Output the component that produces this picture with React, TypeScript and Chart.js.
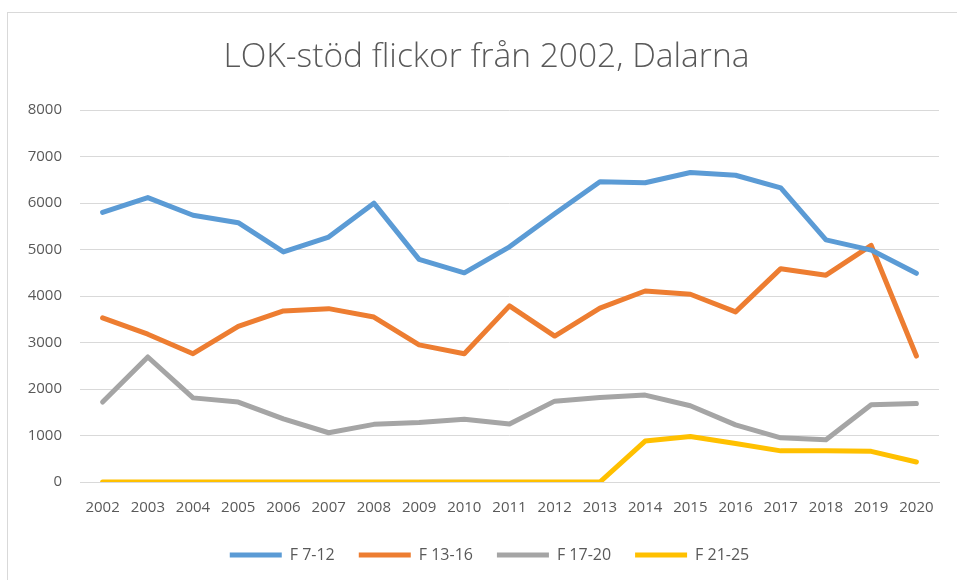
import React, { useEffect, useRef } from "react";
import { Chart, registerables } from "chart.js";

Chart.register(...registerables);

const years = ["2002", "2003", "2004", "2005", "2006", "2007", "2008", "2009", "2010", "2011", "2012", "2013", "2014", "2015", "2016", "2017", "2018", "2019", "2020"];
const f7_12 = [5800, 6120, 5740, 5580, 4950, 5270, 6000, 4790, 4500, 5060, 5770, 6460, 6440, 6660, 6600, 6330, 5210, 4990, 4490];
const f13_16 = [3530, 3180, 2760, 3350, 3680, 3730, 3550, 2950, 2760, 3790, 3140, 3740, 4110, 4040, 3660, 4590, 4450, 5090, 2710];
const f17_20 = [1720, 2690, 1810, 1720, 1360, 1060, 1240, 1280, 1350, 1250, 1740, 1820, 1870, 1640, 1230, 950, 910, 1660, 1690];
const f21_25 = [0, 0, 0, 0, 0, 0, 0, 0, 0, 0, 0, 0, 880, 980, 830, 670, 670, 660, 430];
const seriesNames = ["F 7-12", "F 13-16", "F 17-20", "F 21-25"];
const seriesColors = ["#5B9BD5", "#ED7D31", "#A5A5A5", "#FFC000"];
const titleText = "LOK-stöd flickor från 2002, Dalarna";

const shiftBoxes = {
  id: "shiftBoxes",
  afterLayout(chart: any) {
    const t = chart.titleBlock;
    if (t) { t.left += 17; t.right += 17; }
    const l = chart.legend;
    if (l) { l.left += 20; l.right += 20; }
  },
};

export default function App() {
  const ref = useRef<HTMLCanvasElement>(null);
  useEffect(() => {
    const values = [f7_12, f13_16, f17_20, f21_25];
    const chart = new Chart(ref.current!, {
      type: "line",
      data: {
        labels: years,
        datasets: values.map((v, i) => ({
          label: seriesNames[i],
          data: v,
          borderColor: seriesColors[i],
          backgroundColor: seriesColors[i],
          borderWidth: 5,
          borderCapStyle: "round",
          borderJoinStyle: "round",
          pointRadius: 0,
          pointHoverRadius: 0,
          tension: 0,
        })),
      },
      options: {
        responsive: false,
        animation: false,
        devicePixelRatio: 1,
        layout: { padding: { left: 0, right: 18, top: 0, bottom: 7 } },
        plugins: {
          title: {
            display: true,
            text: titleText,
            color: "#595959",
            font: { family: "'Open Sans'", size: 33.5, weight: "300" },
            padding: { top: 37, bottom: 33 },
          },
          legend: {
            position: "bottom",
            labels: {
              usePointStyle: true,
              pointStyle: "line",
              pointStyleWidth: 52,
              color: "#595959",
              font: { family: "'Open Sans'", size: 16 },
              padding: 24,
            },
          },
          tooltip: { enabled: false },
        },
        scales: {
          x: {
            offset: true,
            grid: { display: false, drawTicks: false },
            border: { display: true, color: "#D9D9D9", width: 1 },
            ticks: { color: "#595959", font: { family: "'Open Sans'", size: 15 }, padding: 17, maxRotation: 0, autoSkip: false },
            afterFit: (s: any) => { s.height = 41; },
          },
          y: {
            min: 0,
            max: 8000,
            ticks: { stepSize: 1000, color: "#595959", font: { family: "'Open Sans'", size: 15 }, padding: 18, callback: (v: any) => String(v) },
            grid: { color: "#D9D9D9", lineWidth: 1, drawTicks: false },
            border: { display: false },
            afterFit: (s: any) => { s.width = 80; },
          },
        },
      },
      plugins: [shiftBoxes],
    });
    return () => chart.destroy();
  }, []);
  return (
    <div style={{ position: "fixed", left: 0, top: 0, width: 957, height: 580, overflow: "hidden", background: "#fff" }}>
      <div style={{ position: "absolute", left: 7, top: 12, width: 1100, height: 800, border: "1px solid #D9D9D9", boxSizing: "border-box" }} />
      <canvas ref={ref} width={957} height={580} style={{ position: "absolute", left: 0, top: 0, width: 957, height: 580 }} />
    </div>
  );
}
